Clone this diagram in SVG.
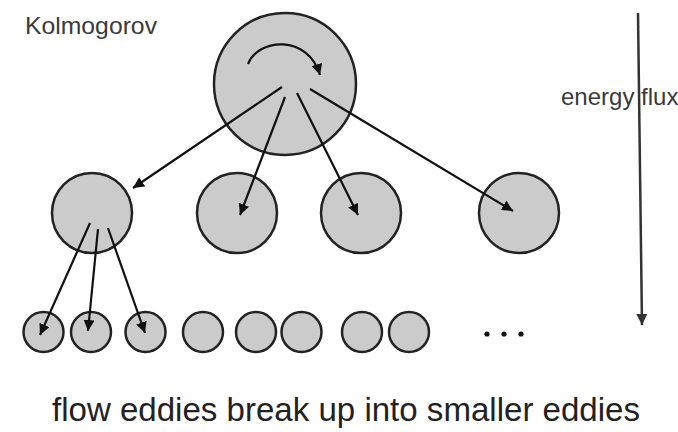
<svg xmlns="http://www.w3.org/2000/svg" width="678" height="432" viewBox="0 0 678 432">
<defs>
<marker id="ah" viewBox="0 0 10 10" refX="10" refY="5" markerWidth="5" markerHeight="5" markerUnits="strokeWidth" orient="auto">
<path d="M0,0 L10,5 L0,10 z" fill="#111"/>
</marker>
<marker id="ah2" viewBox="0 0 10 10" refX="10" refY="5" markerWidth="4.5" markerHeight="4.5" markerUnits="strokeWidth" orient="auto">
<path d="M0,0 L10,5 L0,10 z" fill="#333"/>
</marker>
</defs>
<style>
.ed{fill:#cbcbcb;stroke:#222;stroke-width:2.5}
.ar{fill:none;stroke:#111;stroke-width:2.2;marker-end:url(#ah)}
.lbl{font-family:"Liberation Sans",Arial,sans-serif;fill:#3a3a3a}
</style>
<rect width="678" height="432" fill="#fff"/>
<g id="big"><circle class="ed" cx="285" cy="84" r="71"/></g>
<g id="m1"><circle class="ed" cx="92" cy="213" r="40"/></g>
<g id="m2"><circle class="ed" cx="237" cy="213" r="40"/></g>
<g id="m3"><circle class="ed" cx="361" cy="213" r="40"/></g>
<g id="m4"><circle class="ed" cx="519" cy="213" r="40"/></g>
<g id="s1"><circle class="ed" cx="43.5" cy="332" r="20"/></g>
<g id="s2"><circle class="ed" cx="91" cy="332" r="20"/></g>
<g id="s3"><circle class="ed" cx="145.5" cy="332" r="20"/></g>
<g id="s4"><circle class="ed" cx="203" cy="332" r="20"/></g>
<g id="s5"><circle class="ed" cx="256" cy="332" r="20"/></g>
<g id="s6"><circle class="ed" cx="301.5" cy="332" r="20"/></g>
<g id="s7"><circle class="ed" cx="362" cy="332" r="20"/></g>
<g id="s8"><circle class="ed" cx="409" cy="332" r="20"/></g>
<g id="dots" fill="#111"><circle cx="487" cy="334" r="2.6"/><circle cx="504" cy="334" r="2.6"/><circle cx="521" cy="334" r="2.6"/></g>
<g id="connectors">
<path class="ar" d="M248,64 C258,38 308,34 320,75"/>
<line class="ar" x1="282" y1="87" x2="133" y2="188"/>
<line class="ar" x1="285" y1="97" x2="240" y2="215"/>
<line class="ar" x1="297" y1="93" x2="358" y2="215"/>
<line class="ar" x1="310" y1="89" x2="513" y2="211"/>
<line class="ar" x1="90" y1="223" x2="40" y2="335"/>
<line class="ar" x1="98" y1="229" x2="88" y2="331"/>
<line class="ar" x1="108" y1="228" x2="145" y2="333"/>
<line x1="638" y1="13" x2="642" y2="325" stroke="#333" stroke-width="2.5" marker-end="url(#ah2)"/>
</g>
<text class="lbl" x="25" y="34" font-size="24" textLength="132" lengthAdjust="spacingAndGlyphs">Kolmogorov</text>
<text class="lbl" x="561" y="105" font-size="24">energy flux</text>
<text class="lbl" x="52" y="421" font-size="33" fill="#222" textLength="588" lengthAdjust="spacingAndGlyphs" style="fill:#222">flow eddies break up into smaller eddies</text>
</svg>
